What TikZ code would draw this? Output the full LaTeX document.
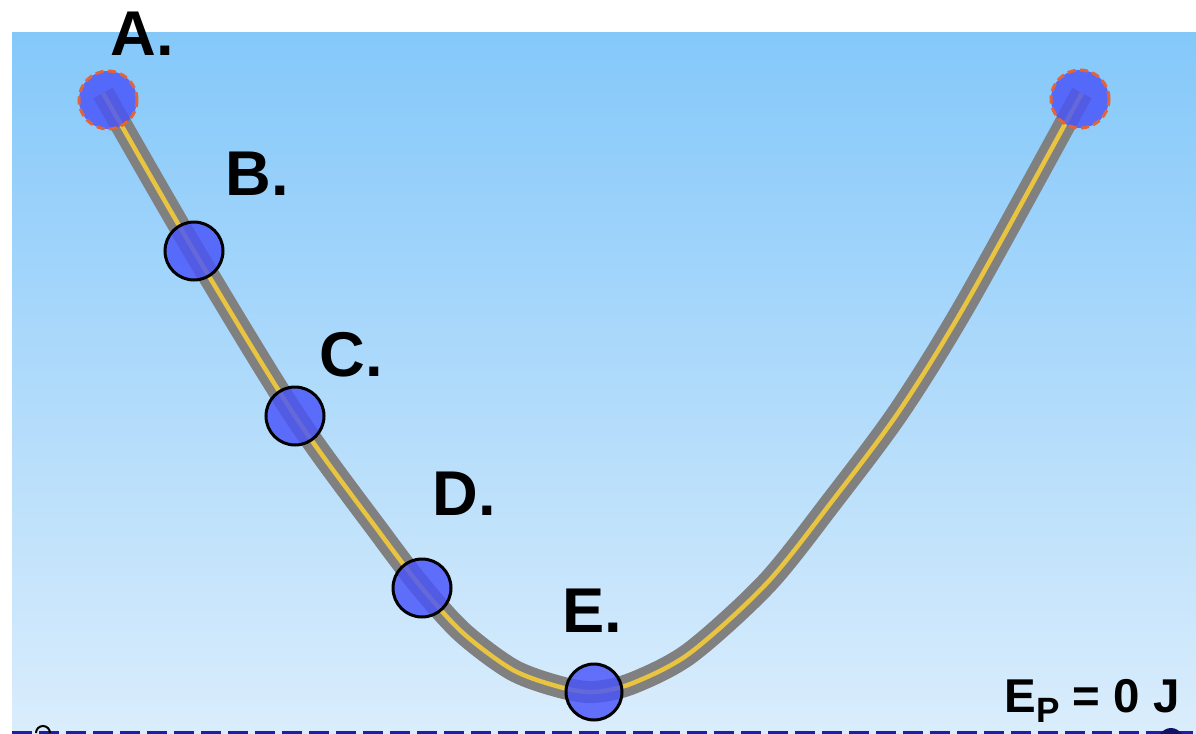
\documentclass[tikz,border=0pt]{standalone}
\usepackage{fontspec}
\setmainfont{Liberation Sans}
\usetikzlibrary{positioning}

\definecolor{skytop}{RGB}{132,200,250}
\definecolor{skybot}{RGB}{218,237,252}
\definecolor{trackgray}{RGB}{128,128,128}
\definecolor{trackyellow}{RGB}{232,196,64}
\definecolor{ballblue}{RGB}{72,84,250}
\definecolor{rimred}{RGB}{228,100,56}
\definecolor{groundblue}{RGB}{30,30,170}

\begin{document}
\begin{tikzpicture}[x=0.2mm,y=-0.2mm,
  ball/.style={circle, draw=black, line width=0.6mm, fill=ballblue, fill opacity=0.82, draw opacity=1, minimum size=11.6mm, inner sep=0},
  endball/.style={ball, draw=rimred, dash pattern=on 1.6mm off 0.9mm, line width=0.6mm},
  letter/.style={anchor=base west, inner sep=0, font=\fontsize{36}{40}\selectfont\bfseries}]
\useasboundingbox (0,0) rectangle (1196,734);
\fill[white] (0,0) rectangle (1196,734);

% Sky
\shade[top color=skytop, bottom color=skybot] (12,32) rectangle (1196,734);

% Ground level
\coordinate (gl) at (12,732);
\coordinate (gr) at (1196,732);
\draw[groundblue, line width=0.6mm, dash pattern=on 4mm off 1.4mm] (gl) -- (gr);
\draw[black, line width=0.4mm] (36,733) arc[start angle=180, end angle=360, radius=7];
\fill[groundblue!60!black] (1160,734) .. controls (1166,726) and (1176,726) .. (1182,734) -- cycle;

% Track
\draw[trackgray, line width=1.75mm, double=trackyellow, double distance=0.9mm]
  plot[smooth] coordinates {(103,93) (194,251) (295,416)
  (380,533) (422,588) (463,633) (513,670) (560,687) (594,692) (633,683) (690,653)
  (767,583) (833,500) (900,410) (968,300) (1082,93)};

% Balls
\node[endball] (A) at (108,100) {};
\node[ball] (B) at (194,251) {};
\node[ball] (C) at (295,416) {};
\node[ball] (D) at (422,588) {};
\node[ball, minimum size=11.2mm] (E) at (594,692) {};
\node[endball] (R) at (1080,99) {};

% Labels
\node[letter] (labA) at (110,55) {A.};
\node[letter] (labB) at (225,195) {B.};
\node[letter] (labC) at (319,376) {C.};
\node[letter] (labD) at (432,515) {D.};
\node[letter] (labE) at (562,632) {E.};
\node[anchor=base west, inner sep=0, font=\fontsize{27}{30}\selectfont\bfseries] (ep) at (1004,712)
  {E\raisebox{-6pt}{\fontsize{20}{20}\selectfont P} = 0 J};

\end{tikzpicture}
\end{document}
